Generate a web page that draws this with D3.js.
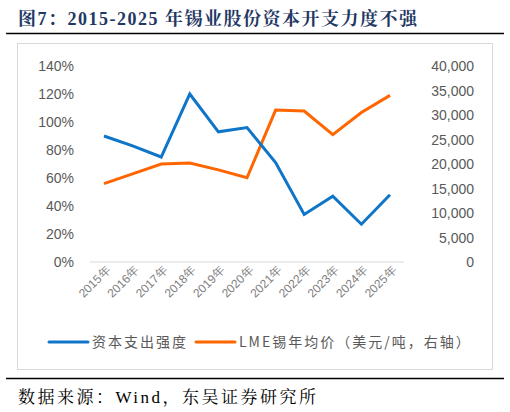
<!DOCTYPE html><html><head><meta charset="utf-8"><script src="https://cdn.jsdelivr.net/npm/d3@7"></script>
<style>body{margin:0;background:#fff}</style></head><body><svg id="c" width="510" height="412"></svg>
<script>
const years=["2015年","2016年","2017年","2018年","2019年","2020年","2021年","2022年","2023年","2024年","2025年"];
const capex=[90,83,75,120,93,96,71,34,47,27,48];
const price=[16000,18000,20000,20200,18800,17200,31000,30800,26000,30500,34000];
const leftTicks=[0,20,40,60,80,100,120,140];
const rightTicks=[0,5000,10000,15000,20000,25000,30000,35000,40000];
const svg=d3.select("#c");
const cjk="'Noto Sans CJK SC',sans-serif", serif="'Liberation Serif','Noto Serif CJK SC','Noto Sans CJK SC',serif";
svg.append("text").attr("x",18).attr("y",25).attr("font-family",serif).attr("font-weight","bold").attr("font-size",18).attr("letter-spacing",1.5).attr("fill","#1f3864").text("图7：2015-2025 年锡业股份资本开支力度不强");
svg.append("line").attr("x1",6).attr("x2",504).attr("y1",33.5).attr("y2",33.5).attr("stroke","#000").attr("stroke-width",1.5);
svg.append("rect").attr("x",17.5).attr("y",43.5).attr("width",475).attr("height",326).attr("fill","none").attr("stroke","#d9d9d9");
svg.append("line").attr("x1",6).attr("x2",504).attr("y1",378.5).attr("y2",378.5).attr("stroke","#000").attr("stroke-width",1.5);
svg.append("text").attr("x",18).attr("y",403).attr("font-family",serif).attr("font-size",17).attr("letter-spacing",2.5).attr("fill","#000").text("数据来源：Wind，东吴证券研究所");
const x=d3.scalePoint().domain(years).range([104,390]);
const yL=d3.scaleLinear().domain([0,140]).range([262,66]);
const yR=d3.scaleLinear().domain([0,40000]).range([262,66]);
svg.append("line").attr("x1",90).attr("x2",404).attr("y1",262).attr("y2",262).attr("stroke","#d9d9d9");
const f="Arial,'Liberation Sans',sans-serif";
svg.append("g").selectAll("text").data(leftTicks).join("text").attr("x",74).attr("y",d=>yL(d)+5).attr("text-anchor","end").attr("font-family",f).attr("font-size",14).attr("fill","#595959").text(d=>d+"%");
svg.append("g").selectAll("text").data(rightTicks).join("text").attr("x",474).attr("y",d=>yR(d)+5).attr("text-anchor","end").attr("font-family",f).attr("font-size",14).attr("fill","#595959").text(d=>d3.format(",")(d));
svg.append("g").selectAll("text").data(years).join("text").attr("transform",d=>`translate(${x(d)+7},${271}) rotate(-45)`).attr("text-anchor","end").attr("font-family",f).attr("font-size",12).attr("fill","#808080").text(d=>d);
const line=(ys,vals)=>d3.line().x((d,i)=>x(years[i])).y(d=>ys(d))(vals);
svg.append("path").attr("d",line(yR,price)).attr("fill","none").attr("stroke","#ff6600").attr("stroke-width",3);
svg.append("path").attr("d",line(yL,capex)).attr("fill","none").attr("stroke","#0f75c9").attr("stroke-width",3);
const lg=svg.append("g").attr("font-family",cjk).attr("font-size",14).attr("letter-spacing",2).attr("fill","#595959");
lg.append("line").attr("x1",49).attr("x2",88).attr("y1",342).attr("y2",342).attr("stroke","#0f75c9").attr("stroke-width",3).attr("stroke-linecap","round");
lg.append("text").attr("x",92).attr("y",347).text("资本支出强度");
lg.append("line").attr("x1",196).attr("x2",235).attr("y1",342).attr("y2",342).attr("stroke","#ff6600").attr("stroke-width",3).attr("stroke-linecap","round");
lg.append("text").attr("x",239).attr("y",347).text("LME锡年均价（美元/吨，右轴）");
</script></body></html>
